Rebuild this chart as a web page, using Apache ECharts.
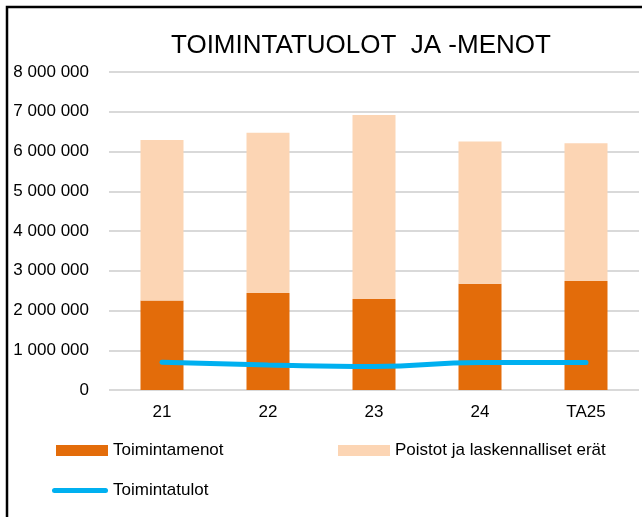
<!DOCTYPE html>
<html>
<head>
<meta charset="utf-8">
<script src="https://cdn.jsdelivr.net/npm/echarts@6/dist/echarts.min.js"></script>
<style>
    html, body { margin: 0; padding: 0; background: #fff; }
    #chart { width: 642px; height: 517px; }
</style>
</head>
<body>
<div id="chart"></div>
<script>
var categories = ['21', '22', '23', '24', 'TA25'];
var toimintamenot = [2250000, 2440000, 2290000, 2670000, 2740000];
var poistot = [4040000, 4030000, 4630000, 3580000, 3470000];
var toimintatulot = [700000, 630000, 590000, 690000, 690000];
var yTicks = [0, 1000000, 2000000, 3000000, 4000000, 5000000, 6000000, 7000000, 8000000];

var FONT = '"Liberation Sans", Arial, sans-serif';

// 8000000 -> "8 000 000"
function spaced(v) {
    return String(v).replace(/\B(?=(\d{3})+(?!\d))/g, ' ');
}

var legendText = { fontFamily: FONT, fontSize: 17, color: '#000' };

var myChart = echarts.init(document.getElementById('chart'));

myChart.setOption({
    animation: false,
    backgroundColor: '#fff',
    graphic: [{
        type: 'rect',
        shape: { x: 7, y: 7, width: 700, height: 600 },
        style: { fill: 'none', stroke: '#000', lineWidth: 2.5 }
    }],
    title: {
        text: 'TOIMINTATUOLOT  JA -MENOT',
        left: 166,
        top: 28,
        textStyle: { fontFamily: FONT, fontSize: 26, fontWeight: 'normal', color: '#000' }
    },
    legend: [{
        data: [{ name: 'Toimintamenot', icon: 'rect' }],
        left: 56, top: 442, padding: 0,
        itemWidth: 52, itemHeight: 11,
        textStyle: legendText
    }, {
        data: [{ name: 'Poistot ja laskennalliset erät', icon: 'rect' }],
        left: 338, top: 442, padding: 0,
        itemWidth: 52, itemHeight: 11,
        textStyle: legendText
    }, {
        data: [{
            name: 'Toimintatulot',
            icon: 'path://M2.5,0 H53.5 A2.5,2.5 0 0 1 53.5,5 H2.5 A2.5,2.5 0 0 1 2.5,0 Z'
        }],
        left: 52, top: 482, padding: 0,
        itemWidth: 56, itemHeight: 5,
        textStyle: legendText
    }],
    grid: { left: 109, right: 3, top: 72, bottom: 127 },
    xAxis: {
        type: 'category',
        data: categories,
        axisLine: { show: false },
        axisTick: { show: false },
        axisLabel: { fontFamily: FONT, fontSize: 17, color: '#000', margin: 14 }
    },
    yAxis: {
        type: 'value',
        min: yTicks[0],
        max: yTicks[yTicks.length - 1],
        interval: yTicks[1] - yTicks[0],
        axisLine: { show: false },
        axisTick: { show: false },
        splitLine: { lineStyle: { color: '#d9d9d9', width: 2 } },
        axisLabel: {
            fontFamily: FONT, fontSize: 17, color: '#000', margin: 20,
            formatter: spaced
        }
    },
    series: [{
        name: 'Toimintamenot',
        type: 'bar',
        stack: 'menot',
        barWidth: 43,
        data: toimintamenot,
        itemStyle: { color: '#e36c0a' }
    }, {
        name: 'Poistot ja laskennalliset erät',
        type: 'bar',
        stack: 'menot',
        barWidth: 43,
        data: poistot,
        itemStyle: { color: '#fcd5b4' }
    }, {
        name: 'Toimintatulot',
        type: 'line',
        smooth: true,
        symbol: 'none',
        data: toimintatulot,
        itemStyle: { color: '#00b0f0' },
        lineStyle: { color: '#00b0f0', width: 5, cap: 'round' }
    }]
});
</script>
</body>
</html>
